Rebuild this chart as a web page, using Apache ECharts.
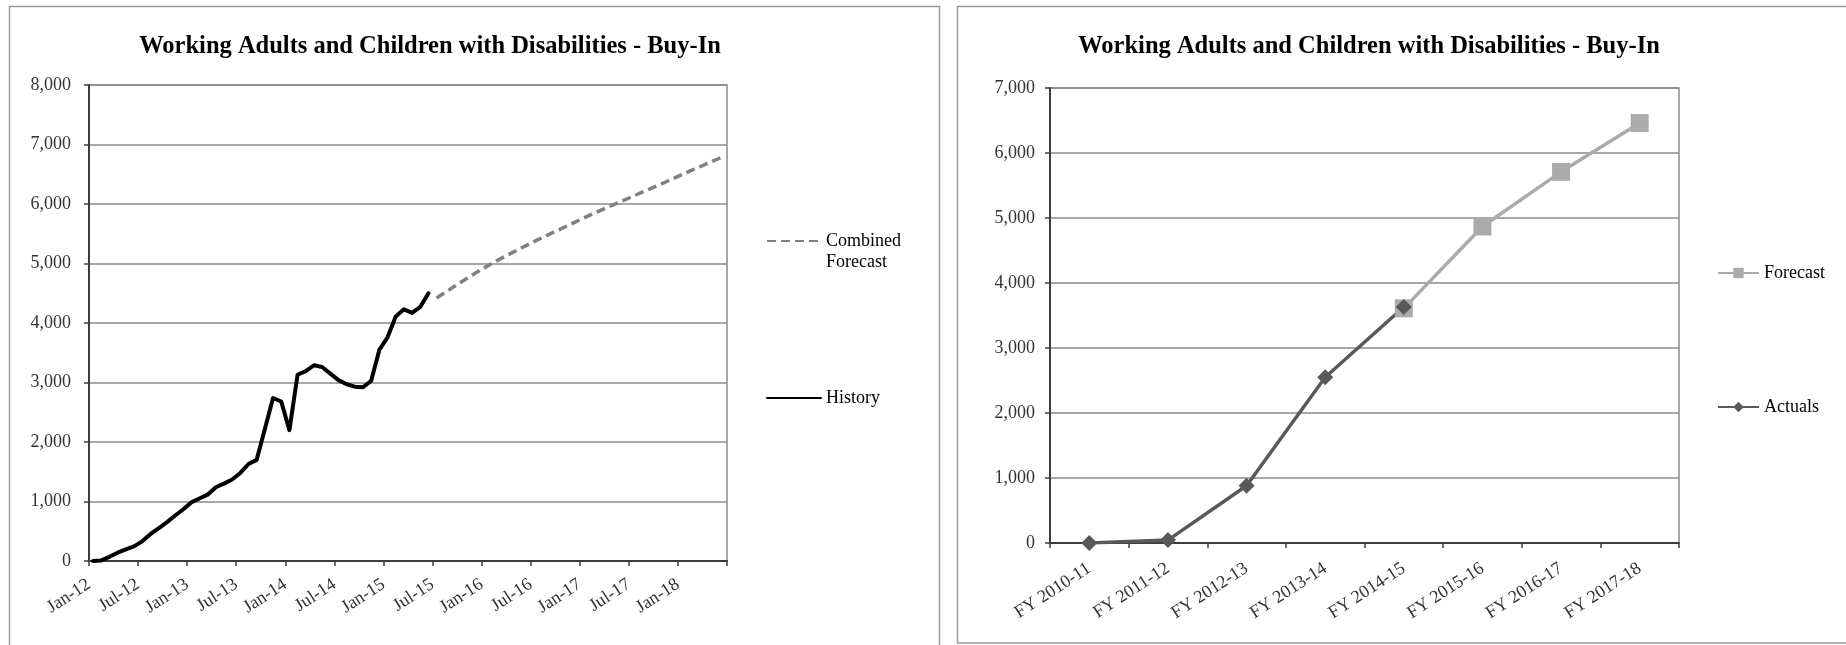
<!DOCTYPE html>
<html>
<head>
<meta charset="utf-8">
<script src="https://cdn.jsdelivr.net/npm/echarts@6/dist/echarts.min.js"></script>
<style>
  html, body { margin: 0; padding: 0; background: #fff; }
  #chart { width: 1846px; height: 645px; }
</style>
</head>
<body>
<div id="chart"></div>
<script>
// ---- Monthly enrollment (left panel) ----
// History: one value per month starting Jan-2012
const historyValues = [0, 10, 70, 140, 195, 245, 330, 450, 550, 650, 760, 865,
  985, 1050, 1115, 1240, 1300, 1370, 1480, 1630, 1700, 2220, 2740, 2680,
  2200, 3130, 3190, 3290, 3260, 3150, 3040, 2970, 2930, 2920, 3030, 3550,
  3760, 4110, 4230, 4170, 4270, 4500];
// Combined forecast: one value per month starting Jul-2015
const forecastMonthly = [4420, 4510, 4600, 4690, 4775, 4860, 4940, 5020, 5095, 5165, 5235, 5305,
  5375, 5440, 5505, 5570, 5635, 5700, 5765, 5830, 5890, 5950, 6010, 6070,
  6130, 6190, 6250, 6310, 6370, 6430, 6495, 6555, 6615, 6675, 6735, 6795];
const historyStartMonth = 0;    // Jan-12
const forecastStartMonth = 42;  // Jul-15
const monthTickLabels = ['Jan-12', 'Jul-12', 'Jan-13', 'Jul-13', 'Jan-14', 'Jul-14', 'Jan-15',
  'Jul-15', 'Jan-16', 'Jul-16', 'Jan-17', 'Jul-17', 'Jan-18', ''];

// ---- Fiscal-year totals (right panel) ----
const fiscalYears = ['FY 2010-11', 'FY 2011-12', 'FY 2012-13', 'FY 2013-14',
  'FY 2014-15', 'FY 2015-16', 'FY 2016-17', 'FY 2017-18'];
const actualsValues = [0, 45, 880, 2550, 3630, null, null, null];
const forecastValues = [null, null, null, null, 3610, 4870, 5710, 6460];

const titleText = 'Working Adults and Children with Disabilities - Buy-In';

// points sit at mid-month on the month axis
const toPoints = (vals, start) => vals.map((v, i) => [start + i + 0.5, v]);
const fmtThousands = v => String(v).replace(/\B(?=(\d{3})+(?!\d))/g, ',');

const SERIF = '"Liberation Serif", "Times New Roman", serif';
const gridColor = '#8a8a8a';
const axisColor = '#3c3c3c';
const labelColor = '#333333';

const chart = echarts.init(document.getElementById('chart'), null, { renderer: 'canvas' });

chart.setOption({
  animation: false,
  backgroundColor: '#ffffff',
  textStyle: { fontFamily: SERIF },
  graphic: [
    { type: 'rect', silent: true, z: -1,
      shape: { x: 9.5, y: 6.5, width: 930, height: 700 },
      style: { fill: 'none', stroke: '#9a9a9a', lineWidth: 1.5 } },
    { type: 'rect', silent: true, z: -1,
      shape: { x: 957.5, y: 6.5, width: 900, height: 636.5 },
      style: { fill: 'none', stroke: '#9a9a9a', lineWidth: 1.5 } },
    { type: 'text', silent: true, x: 430, y: 47,
      style: { text: titleText, align: 'center', verticalAlign: 'middle',
        fontFamily: SERIF, fontSize: 24.5, fontWeight: 'bold', fill: '#000' } },
    { type: 'text', silent: true, x: 1369, y: 47,
      style: { text: titleText, align: 'center', verticalAlign: 'middle',
        fontFamily: SERIF, fontSize: 24.5, fontWeight: 'bold', fill: '#000' } }
  ],
  grid: [
    { left: 89, top: 85, width: 638, height: 476, show: true,
      borderColor: gridColor, borderWidth: 1.5, backgroundColor: 'transparent' },
    { left: 1050, top: 88, width: 629, height: 455, show: true,
      borderColor: gridColor, borderWidth: 1.5, backgroundColor: 'transparent' }
  ],
  legend: [
    // the leading blank line keeps "Combined" level with the legend line
    { data: ['Combined Forecast'], orient: 'vertical', left: 766, top: 209.5, padding: 0,
      itemWidth: 54, itemHeight: 14, itemGap: 0,
      itemStyle: { opacity: 0 },
      formatter: () => ' \nCombined\nForecast',
      textStyle: { fontFamily: SERIF, fontSize: 18, color: '#000', lineHeight: 21 } },
    { data: ['History'], orient: 'vertical', left: 766, top: 387.5, padding: 0,
      itemWidth: 54, itemHeight: 14,
      itemStyle: { opacity: 0 },
      textStyle: { fontFamily: SERIF, fontSize: 18, color: '#000', lineHeight: 21 } },
    { data: ['Forecast'], orient: 'vertical', left: 1717, top: 262.5, padding: 0,
      itemWidth: 41, itemHeight: 13,
      textStyle: { fontFamily: SERIF, fontSize: 18, color: '#000', lineHeight: 21 } },
    { data: ['Actuals'], orient: 'vertical', left: 1717, top: 396.5, padding: 0,
      itemWidth: 41, itemHeight: 13,
      textStyle: { fontFamily: SERIF, fontSize: 18, color: '#000', lineHeight: 21 } }
  ],
  xAxis: [
    { type: 'value', gridIndex: 0, min: 0, max: 78, interval: 6,
      axisLine: { show: true, onZero: false, lineStyle: { color: axisColor, width: 2 } },
      axisTick: { show: true, length: 5, lineStyle: { color: axisColor, width: 1.5 } },
      splitLine: { show: false },
      axisLabel: { rotate: 33, margin: 22, fontFamily: SERIF, fontSize: 18, color: labelColor,
        formatter: v => monthTickLabels[Math.round(v / 6)] || '' } },
    { type: 'category', gridIndex: 1, data: fiscalYears, boundaryGap: true,
      axisLine: { show: true, lineStyle: { color: axisColor, width: 2 } },
      axisTick: { show: true, length: 5, lineStyle: { color: axisColor, width: 1.5 } },
      axisLabel: { rotate: 33, margin: 24, interval: 0, fontFamily: SERIF, fontSize: 18, color: labelColor } }
  ],
  yAxis: [
    { type: 'value', gridIndex: 0, min: 0, max: 8000, interval: 1000,
      axisLine: { show: true, lineStyle: { color: axisColor, width: 2 } },
      axisTick: { show: true, length: 5, lineStyle: { color: axisColor, width: 1.5 } },
      splitLine: { lineStyle: { color: gridColor, width: 1.5 } },
      axisLabel: { margin: 18, fontFamily: SERIF, fontSize: 18, color: labelColor, formatter: fmtThousands } },
    { type: 'value', gridIndex: 1, min: 0, max: 7000, interval: 1000,
      axisLine: { show: true, lineStyle: { color: axisColor, width: 2 } },
      axisTick: { show: true, length: 5, lineStyle: { color: axisColor, width: 1.5 } },
      splitLine: { lineStyle: { color: gridColor, width: 1.5 } },
      axisLabel: { margin: 15, fontFamily: SERIF, fontSize: 18, color: labelColor, formatter: fmtThousands } }
  ],
  series: [
    { name: 'Combined Forecast', type: 'line', xAxisIndex: 0, yAxisIndex: 0,
      data: toPoints(forecastMonthly, forecastStartMonth),
      symbol: 'none', color: '#808080',
      lineStyle: { color: '#808080', width: 3.5, type: [9, 5] } },
    { name: 'History', type: 'line', xAxisIndex: 0, yAxisIndex: 0,
      data: toPoints(historyValues, historyStartMonth),
      symbol: 'none', color: '#000',
      lineStyle: { color: '#000', width: 4, join: 'round', cap: 'round' } },
    { name: 'Forecast', type: 'line', xAxisIndex: 1, yAxisIndex: 1,
      data: forecastValues, symbol: 'rect', symbolSize: 18, color: '#ababab',
      itemStyle: { color: '#ababab' },
      lineStyle: { color: '#ababab', width: 3.5 } },
    { name: 'Actuals', type: 'line', xAxisIndex: 1, yAxisIndex: 1,
      data: actualsValues, symbol: 'diamond', symbolSize: 16, color: '#595959',
      itemStyle: { color: '#595959' },
      lineStyle: { color: '#595959', width: 3.5 } }
  ]
});
</script>
</body>
</html>
